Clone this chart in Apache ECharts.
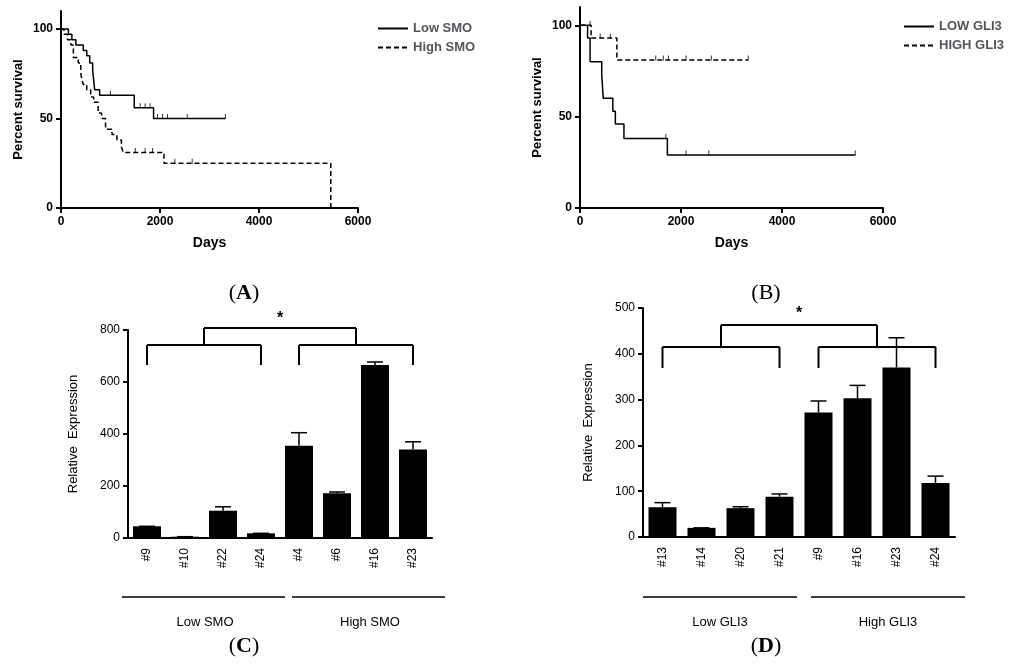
<!DOCTYPE html><html><head><meta charset="utf-8">
<script src="https://cdn.jsdelivr.net/npm/echarts@6/dist/echarts.min.js"></script>
<style>html,body{margin:0;background:#fff}#c{width:1024px;height:668px}</style></head><body><div id="c"></div>
<script>
const lowSMO=[[0,100],[150,97],[220,94],[300,91],[450,88],[520,85],[580,81],[640,77],[680,66],[780,63],[1480,56],[1870,50],[3320,50]];
const highSMO=[[0,100],[60,97],[130,94],[200,91],[250,84],[350,81],[400,75],[420,72],[450,69],[520,66],[600,62],[660,59],[750,53],[820,50],[900,44],[1030,41],[1130,38],[1220,34],[1260,31],[2080,25],[5450,0]];
const lowSMOcens=[[1000,63],[1600,56],[1700,56],[1800,56],[1950,50],[2050,50],[2150,50],[2550,50],[3320,50]];
const highSMOcens=[[1500,31],[1700,31],[1850,31],[2300,25],[2650,25]];
const lowGLI3=[[0,100],[150,93],[200,80],[430,73],[460,60],[650,53],[700,46],[870,38],[1730,29],[5450,29]];
const highGLI3=[[0,100],[220,93],[730,81],[3330,81]];
const lowGLI3cens=[[1700,38],[2100,29],[2550,29],[5450,29]];
const highGLI3cens=[[200,100],[400,93],[600,93],[1500,81],[1650,81],[1750,81],[2100,81],[2600,81],[3330,81]];
const catsC=['#9','#10','#22','#24','#4','#6','#16','#23'];
const valsC=[45,5,105,18,355,172,665,340];
const errC=[0,0,15,0,50,5,12,30];
const catsD=['#13','#14','#20','#21','#9','#16','#23','#24'];
const valsD=[65,20,63,88,272,303,370,118];
const errD=[10,0,3,6,25,28,65,15];
const ticksSurv=[0,50,100];
const F='Liberation Sans';
const ch=echarts.init(document.getElementById('c'));
const lab={fontFamily:F,fontWeight:'bold',fontSize:12,color:'#000'};
const axl={lineStyle:{color:'#000',width:2}};
function survX(i){return {type:'value',gridIndex:i,min:0,max:6000,interval:2000,axisLine:axl,axisTick:{length:5,lineStyle:{width:2,color:'#000'}},splitLine:{show:false},axisLabel:Object.assign({formatter:v=>String(v)},lab),name:'Days',nameLocation:'middle',nameGap:28,nameTextStyle:{fontFamily:F,fontWeight:'bold',fontSize:14,color:'#000'}};}
function survY(i){return {type:'value',gridIndex:i,min:0,max:110,axisLine:{show:true,lineStyle:{color:'#000',width:2}},axisTick:{show:true,length:5,customValues:ticksSurv,lineStyle:{width:2,color:'#000'}},axisLabel:Object.assign({customValues:ticksSurv},lab),splitLine:{show:false},name:'Percent survival',nameLocation:'middle',nameGap:36,nameTextStyle:{fontFamily:F,fontWeight:'bold',fontSize:13,color:'#000'}};}
function barX(i,c){return {type:'category',gridIndex:i,data:c,axisLine:axl,axisTick:{show:false},axisLabel:Object.assign({},lab,{rotate:90,fontWeight:'normal',fontSize:12,margin:10})};}
function barY(i,mx,iv){return {type:'value',gridIndex:i,min:0,max:mx,interval:iv,axisLine:{show:true,lineStyle:{color:'#000',width:2}},axisTick:{show:true,length:5,lineStyle:{width:2,color:'#000'}},axisLabel:Object.assign({},lab,{fontWeight:'normal',fontSize:12}),splitLine:{show:false},name:'Relative  Expression',nameLocation:'middle',nameGap:48,nameTextStyle:{fontFamily:F,fontSize:13,color:'#000'}};}
function step(name,d,i,dash){return {name,type:'line',xAxisIndex:i,yAxisIndex:i,step:'end',data:d,symbol:'none',lineStyle:{color:'#000',width:1.5,type:dash?[5,3]:'solid'},itemStyle:{color:'#000'}};}
function cens(d,i){return {type:'scatter',xAxisIndex:i,yAxisIndex:i,data:d,symbol:'rect',symbolSize:[1,5],itemStyle:{color:'#000'},symbolOffset:[0,-2]};}
function bars(v,i){return {type:'bar',xAxisIndex:i,yAxisIndex:i,data:v,barWidth:28,itemStyle:{color:'#000'}};}
function errs(v,e,i){return {type:'custom',xAxisIndex:i,yAxisIndex:i,data:v.map((x,k)=>[k,x,x+e[k]]),renderItem:(p,api)=>{const a=api.coord([api.value(0),api.value(1)]),b=api.coord([api.value(0),api.value(2)]);return {type:'group',children:[{type:'line',shape:{x1:a[0],y1:a[1],x2:b[0],y2:b[1]},style:{stroke:'#000',lineWidth:1.5}},{type:'line',shape:{x1:b[0]-8,y1:b[1],x2:b[0]+8,y2:b[1]},style:{stroke:'#000',lineWidth:1.5}}]};}};}
const lg={orient:'vertical',itemGap:6,itemWidth:30,itemStyle:{opacity:0},textStyle:{fontFamily:F,fontWeight:'bold',fontSize:13}};
ch.setOption({animation:false,
grid:[{left:61,right:666,top:11,bottom:460},{left:580,right:141,top:7,bottom:460},{left:128,right:592,top:330,bottom:130},{left:643,right:69,top:308,bottom:131}],
xAxis:[survX(0),survX(1),barX(2,catsC),barX(3,catsD)],
yAxis:[survY(0),survY(1),barY(2,800,200),barY(3,500,100)],
legend:[Object.assign({data:['Low SMO','High SMO'],left:372,top:17},lg),Object.assign({data:['LOW GLI3','HIGH GLI3'],left:898,top:15},lg)],
series:[step('Low SMO',lowSMO,0,false),step('High SMO',highSMO,0,true),cens(lowSMOcens,0),cens(highSMOcens,0),
step('LOW GLI3',lowGLI3,1,false),step('HIGH GLI3',highGLI3,1,true),cens(lowGLI3cens,1),cens(highGLI3cens,1),
bars(valsC,2),errs(valsC,errC,2),bars(valsD,3),errs(valsD,errD,3)]});
function bracket(ai,c,lv,tv,topv,starv){
 const P=(cat,v)=>ch.convertToPixel({xAxisIndex:ai,yAxisIndex:ai},[cat,v]);
 const g=[];const L=(a,b)=>g.push({type:'line',shape:{x1:a[0],y1:a[1],x2:b[0],y2:b[1]},style:{stroke:'#000',lineWidth:2}});
 const l0=P(c[0],lv),l1=P(c[3],lv),r0=P(c[4],lv),r1=P(c[7],lv);
 L(l0,l1);L(r0,r1);[c[0],c[3],c[4],c[7]].forEach(k=>L(P(k,lv),P(k,tv)));
 const ml=(l0[0]+l1[0])/2,mr=(r0[0]+r1[0])/2,ty=P(c[0],topv)[1];
 L([ml,l0[1]],[ml,ty]);L([mr,l0[1]],[mr,ty]);L([ml,ty],[mr,ty]);
 g.push({type:'text',x:(ml+mr)/2,y:P(c[0],starv)[1],style:{text:'*',font:'bold 16px '+F,fill:'#000',align:'center',verticalAlign:'middle'}});
 return g;}
const T=(t,x,y,b)=>({type:'text',x,y,style:{text:b?'({b|'+t+'})':'('+t+')',font:'22px "Liberation Serif"',fill:'#000',align:'center',verticalAlign:'middle',rich:{b:{font:'bold 22px "Liberation Serif"',fill:'#000'}}}});
const T2=(t,x,y)=>({type:'text',x,y,style:{text:t,font:'13px '+F,fill:'#000',align:'center',verticalAlign:'middle'}});
const HL=(x1,x2,y)=>({type:'line',shape:{x1,y1:y,x2,y2:y},style:{stroke:'#000',lineWidth:1.5}});
ch.setOption({graphic:[].concat(bracket(2,catsC,742,665,808,845),bracket(3,catsD,415,369,463,488),[
 T('A',244,293,true),T('B',766,293,false),T('C',244,646,true),T('D',766,646,true),
 HL(122,285,597),HL(292,445,597),HL(643,797,597),HL(811,965,597),
 T2('Low SMO',205,622),T2('High SMO',370,622),T2('Low GLI3',720,622),T2('High GLI3',888,622)])});
</script></body></html>
